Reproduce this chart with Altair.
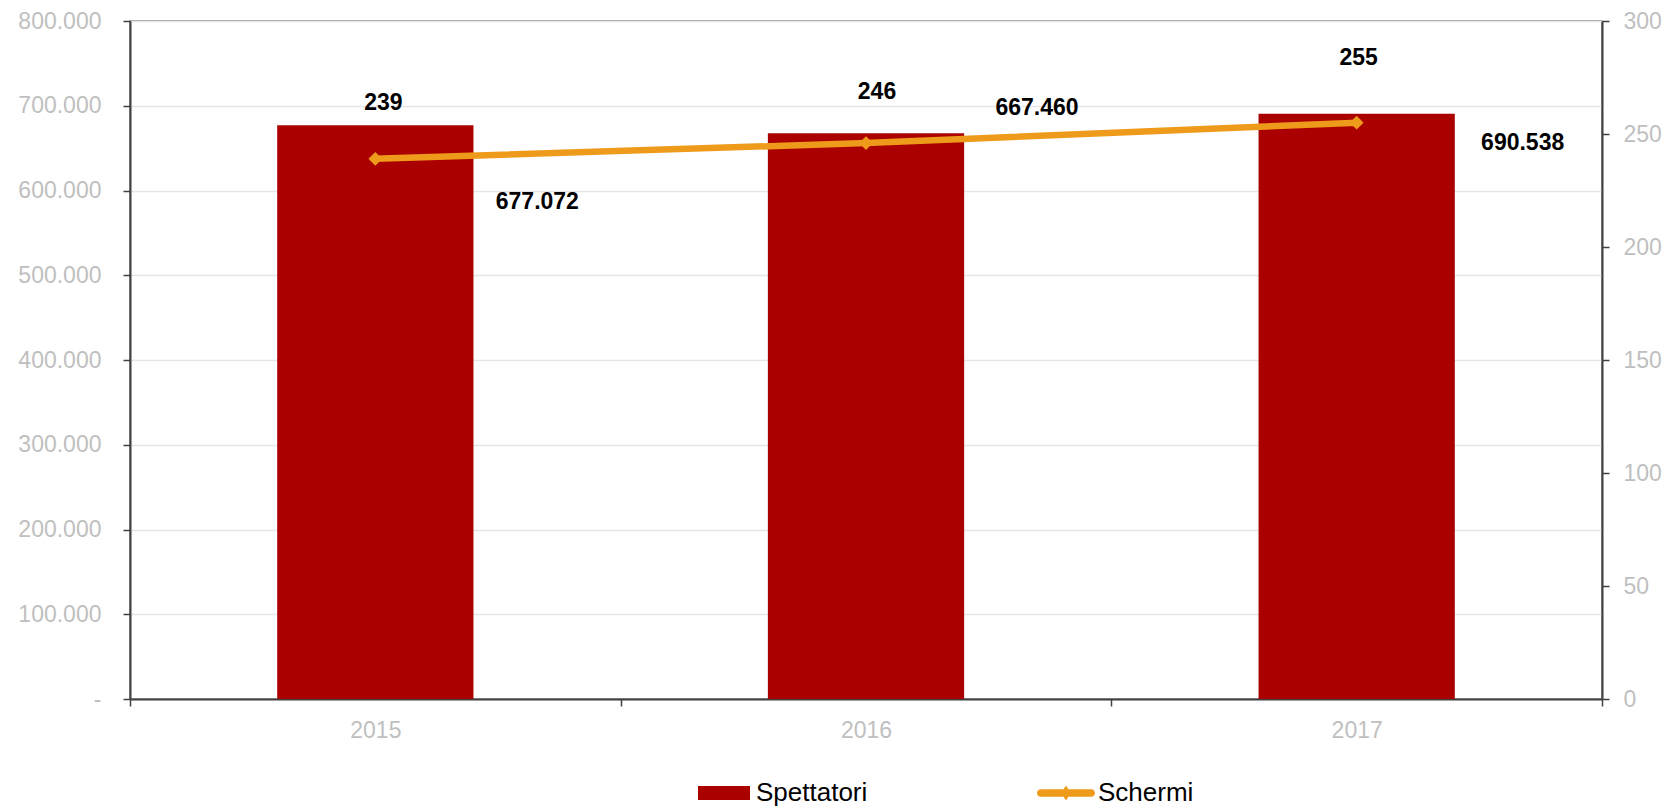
import altair as alt
import pandas as pd

# ---- data ----
anni = ["2015", "2016", "2017"]
spettatori = [677072, 667460, 690538]
schermi = [239, 246, 255]
y_left_ticks = [0, 100000, 200000, 300000, 400000, 500000, 600000, 700000, 800000]
y_right_ticks = [0, 50, 100, 150, 200, 250, 300]

df = pd.DataFrame({"anno": anni, "spettatori": spettatori, "schermi": schermi})

RED = "#AA0000"
ORANGE = "#EE9A1B"
FONT = "Liberation Sans"
LABEL_GREY = "#BFBFBF"
AXIS_DARK = "#404040"

base = alt.Chart(df).transform_calculate(
    s1="'Spettatori'",
    s2="'Schermi'",
    lab_s="replace(format(datum.spettatori, ','), ',', '.')",
    lab_c="format(datum.schermi, 'd')",
)

x = alt.X(
    "anno:N",
    sort=anni,
    scale=alt.Scale(paddingInner=0, paddingOuter=0),
    axis=alt.Axis(
        title=None, labelAngle=0, tickBand="extent", grid=False,
        labelFont=FONT, labelFontSize=23, labelColor=LABEL_GREY, labelPadding=13,
        tickSize=7, tickColor=AXIS_DARK, tickWidth=1.5,
        domainColor=AXIS_DARK, domainWidth=2,
    ),
)

yL = alt.Y(
    "spettatori:Q",
    scale=alt.Scale(domain=[0, 800000], nice=False),
    axis=alt.Axis(
        title=None, values=y_left_ticks,
        labelExpr="datum.value == 0 ? '-' : replace(format(datum.value, ','), ',', '.')",
        labelFont=FONT, labelFontSize=23, labelColor=LABEL_GREY, labelPadding=22,
        tickSize=7, tickColor=AXIS_DARK, tickWidth=1.5,
        domainColor=AXIS_DARK, domainWidth=2,
        grid=True, gridColor="#E6E6E6", gridWidth=1.5,
    ),
)

yR = alt.Y(
    "schermi:Q",
    scale=alt.Scale(domain=[0, 300], nice=False),
    axis=alt.Axis(
        title=None, orient="right", values=y_right_ticks, format="d",
        labelFont=FONT, labelFontSize=23, labelColor=LABEL_GREY, labelPadding=14,
        tickSize=7, tickColor=AXIS_DARK, tickWidth=1.5,
        domainColor=AXIS_DARK, domainWidth=2, grid=False,
    ),
)

bars = base.mark_bar(width=alt.RelativeBandSize(0.4)).encode(
    x=x, y=yL,
    fill=alt.Fill(
        "s1:N", scale=alt.Scale(range=[RED]),
        legend=alt.Legend(
            title=None, orient="none", legendX=568, legendY=746, padding=0,
            symbolType="M-1,-0.27H1V0.27H-1Z", symbolSize=2704, symbolStrokeWidth=0,
            labelFont=FONT, labelFontSize=26, labelColor="black", labelOffset=6,
        ),
    ),
)

bar_off = {"2015": (162, 77), "2016": (171, -25), "2017": (166, 29)}
line_off = {"2015": (8, -56), "2016": (11, -51), "2017": (2, -65)}

bar_texts = [
    base.transform_filter(alt.datum.anno == a).mark_text(
        dx=bar_off[a][0], dy=bar_off[a][1], font=FONT, fontSize=23,
        fontWeight="bold", color="black", baseline="middle", align="center",
    ).encode(x=x, y=yL, text="lab_s:N")
    for a in anni
]

line = base.mark_line(
    strokeWidth=6.5,
    point=alt.OverlayMarkDef(shape="diamond", size=190, filled=True, color=ORANGE, strokeWidth=0),
).encode(
    x=x, y=yR,
    stroke=alt.Stroke(
        "s2:N", scale=alt.Scale(range=[ORANGE]),
        legend=alt.Legend(
            title=None, orient="none", legendX=907, legendY=743, padding=0,
            symbolType=(
                "M-0.87,-0.13H0.87A0.13,0.13 0 0 1 0.87,0.13H-0.87"
                "A0.13,0.13 0 0 1 -0.87,-0.13Z "
                "M0,-0.26L0.17,0L0,0.26L-0.17,0Z"
            ),
            symbolSize=3364, symbolStrokeWidth=0, symbolFillColor=ORANGE,
            labelFont=FONT, labelFontSize=26, labelColor="black", labelOffset=3,
        ),
    ),
)

line_texts = [
    base.transform_filter(alt.datum.anno == a).mark_text(
        dx=line_off[a][0], dy=line_off[a][1], font=FONT, fontSize=23,
        fontWeight="bold", color="black", baseline="middle", align="center",
    ).encode(x=x, y=yR, text="lab_c:N")
    for a in anni
]

left = alt.layer(bars, *bar_texts)
right = alt.layer(line, *line_texts)

chart = alt.layer(left, right).resolve_scale(y="independent").properties(
    width=1472, height=678,
    padding={"left": 122, "top": 13, "right": 60, "bottom": 108},
    autosize=alt.AutoSizeParams(type="none"),
    background="white",
).configure_view(stroke="#808080", strokeWidth=1.5)

chart.save("out.html", embed_options={"renderer": "svg", "actions": False})
